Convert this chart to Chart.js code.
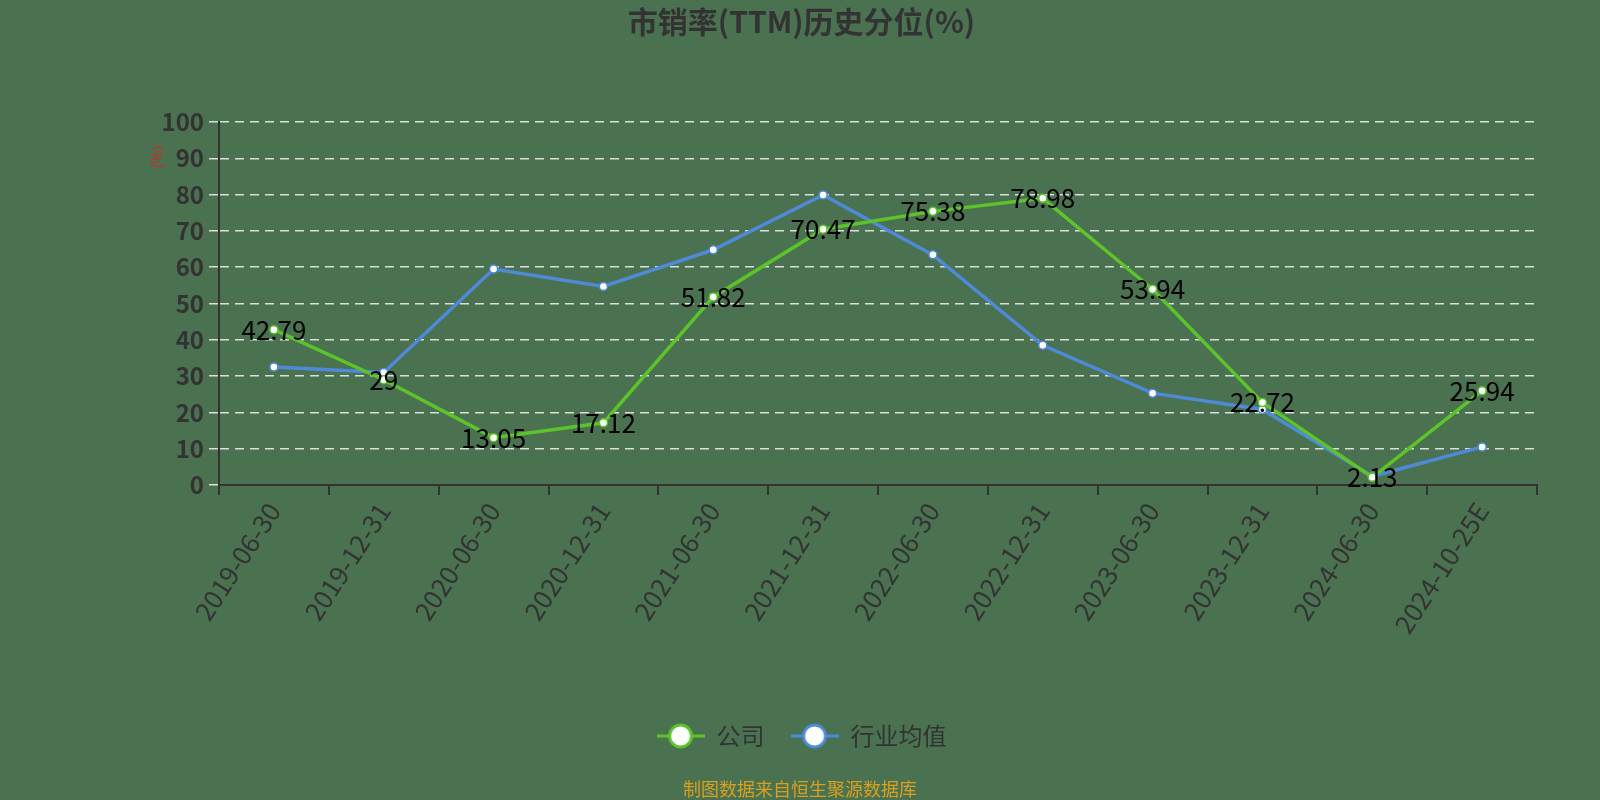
<!DOCTYPE html>
<html>
<head>
<meta charset="utf-8">
<script src="https://cdn.jsdelivr.net/npm/chart.js@4"></script>
<style>
  html, body { margin: 0; padding: 0; background: #4a7150; }
  #psChart { display: block; }
</style>
</head>
<body>
<canvas id="psChart" width="1600" height="800"></canvas>
<script>
const categories = [
  "2019-06-30", "2019-12-31", "2020-06-30", "2020-12-31", "2021-06-30", "2021-12-31",
  "2022-06-30", "2022-12-31", "2023-06-30", "2023-12-31", "2024-06-30", "2024-10-25E",
];
const companyValues = [42.79, 29, 13.05, 17.12, 51.82, 70.47, 75.38, 78.98, 53.94, 22.72, 2.13, 25.94];
const industryValues = [32.5, 31, 59.5, 54.7, 64.8, 79.9, 63.4, 38.5, 25.3, 20.8, 2.4, 10.5];
const yTicks = [0, 10, 20, 30, 40, 50, 60, 70, 80, 90, 100];

const green = "#5cc42a";
const blue = "#4f8ad8";
const bg = "#4a7150";
const textColor = "#333333";
const fontFamily = "'Noto Sans CJK SC', 'Noto Sans', sans-serif";

function legendMarker(color) {
  const c = document.createElement("canvas");
  c.width = 48;
  c.height = 28;
  const g = c.getContext("2d");
  g.strokeStyle = color;
  g.lineWidth = 3;
  g.beginPath();
  g.moveTo(0, 14);
  g.lineTo(48, 14);
  g.stroke();
  g.beginPath();
  g.arc(24, 14, 11, 0, Math.PI * 2);
  g.fillStyle = "#ffffff";
  g.fill();
  g.lineWidth = 3;
  g.stroke();
  return c;
}
const markers = [legendMarker(green), legendMarker(blue)];

// background, value labels, axis unit and source footer
const extras = {
  id: "extras",
  beforeDraw(chart) {
    const ctx = chart.ctx;
    ctx.save();
    ctx.fillStyle = bg;
    ctx.fillRect(0, 0, chart.width, chart.height);
    ctx.restore();
  },
  afterDatasetsDraw(chart) {
    const ctx = chart.ctx;
    const meta = chart.getDatasetMeta(0);
    ctx.save();
    ctx.font = "26px " + fontFamily;
    ctx.fillStyle = "#000000";
    ctx.textAlign = "center";
    ctx.textBaseline = "middle";
    meta.data.forEach((pt, i) => {
      ctx.fillText(String(companyValues[i]), pt.x, pt.y);
    });
    ctx.restore();
  },
  afterDraw(chart) {
    const ctx = chart.ctx;
    ctx.save();
    ctx.translate(157, 157);
    ctx.rotate(-Math.PI / 2);
    ctx.font = "14px " + fontFamily;
    ctx.fillStyle = "#e02020";
    ctx.textAlign = "center";
    ctx.textBaseline = "middle";
    ctx.fillText("(%)", 0, 0);
    ctx.restore();

    ctx.save();
    ctx.font = "18px " + fontFamily;
    ctx.fillStyle = "#d9a020";
    ctx.textAlign = "center";
    ctx.textBaseline = "middle";
    ctx.fillText("制图数据来自恒生聚源数据库", 800, 789);
    ctx.restore();
  },
};

new Chart(document.getElementById("psChart"), {
  type: "line",
  data: {
    labels: categories,
    datasets: [
      {
        label: "公司",
        data: companyValues,
        borderColor: green,
        backgroundColor: "#ffffff",
        borderWidth: 3.5,
        pointRadius: 4,
        pointBorderWidth: 1.5,
        pointBorderColor: green,
        pointBackgroundColor: "#ffffff",
        tension: 0,
      },
      {
        label: "行业均值",
        data: industryValues,
        borderColor: blue,
        backgroundColor: "#ffffff",
        borderWidth: 3.5,
        pointRadius: 4,
        pointBorderWidth: 1.5,
        pointBorderColor: blue,
        pointBackgroundColor: "#ffffff",
        tension: 0,
      },
    ],
  },
  options: {
    responsive: false,
    animation: false,
    devicePixelRatio: 1,
    layout: { padding: { left: 66, right: 63, top: 0, bottom: 42 } },
    plugins: {
      title: {
        display: true,
        text: "市销率(TTM)历史分位(%)",
        color: textColor,
        font: { family: fontFamily, size: 30, weight: "bold" },
        padding: { top: 4, bottom: 82 },
      },
      legend: {
        position: "bottom",
        labels: {
          usePointStyle: true,
          pointStyleWidth: 48,
          color: textColor,
          font: { family: fontFamily, size: 24 },
          padding: 26,
          generateLabels(chart) {
            const items = Chart.defaults.plugins.legend.labels.generateLabels(chart);
            items.forEach((item, i) => {
              item.pointStyle = markers[i];
            });
            return items;
          },
        },
      },
      tooltip: { enabled: false },
    },
    scales: {
      x: {
        offset: true,
        border: { display: true, color: "#333333", width: 2 },
        grid: {
          display: true,
          drawOnChartArea: false,
          drawTicks: true,
          tickLength: 10,
          offset: true,
          color: "#333333",
          lineWidth: 2,
        },
        ticks: {
          color: textColor,
          font: { family: fontFamily, size: 26 },
          minRotation: 57,
          maxRotation: 57,
          padding: 2,
        },
        afterFit(scale) {
          scale.height = 213;
        },
      },
      y: {
        min: 0,
        max: 100,
        grid: {
          color: "rgba(235,235,235,0.9)",
          lineWidth: 1.5,
          tickLength: 10,
          tickColor: "rgba(235,235,235,0.9)",
        },
        border: { display: true, color: "#333333", width: 2, dash: [9, 6] },
        ticks: {
          stepSize: 10,
          color: textColor,
          font: { family: fontFamily, size: 24, weight: "bold" },
          padding: 5,
          callback: (v) => (yTicks.includes(v) ? v : ""),
        },
        afterFit(scale) {
          scale.width = 153;
        },
      },
    },
  },
  plugins: [extras],
});
</script>
</body>
</html>
